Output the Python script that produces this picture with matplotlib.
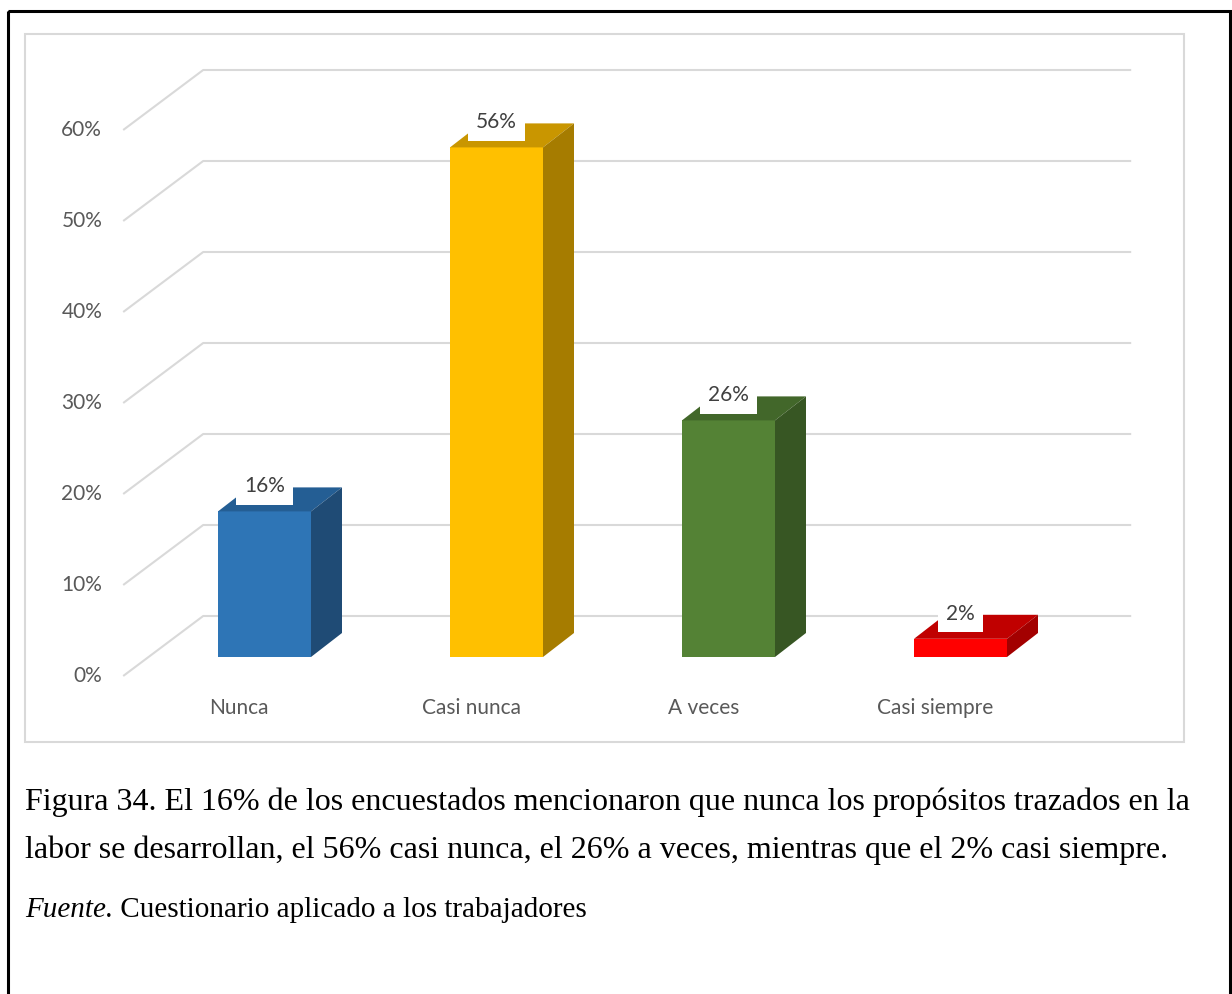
import matplotlib.pyplot as plt
from matplotlib.patches import Polygon, Rectangle

categorias = ['Nunca', 'Casi nunca', 'A veces', 'Casi siempre']
porcentajes = [16, 56, 26, 2]
ticks = [0, 10, 20, 30, 40, 50, 60]
# front, top and side shades of each bar
colores = [
    ('#2E75B6', '#245E94', '#1F4B75'),
    ('#FFC000', '#C99600', '#A67C00'),
    ('#548235', '#42672A', '#375623'),
    ('#FF0000', '#C00000', '#A30000'),
]
leyenda = ('Figura 34. El 16% de los encuestados mencionaron que nunca los propósitos trazados en la',
           'labor se desarrollan, el 56% casi nunca, el 26% a veces, mientras que el 2% casi siempre.')
fuente = ' Cuestionario aplicado a los trabajadores'

W, H = 1232, 994
fig = plt.figure(figsize=(W / 100, H / 100), dpi=100)

# page layer in pixels: frames and caption
bg = fig.add_axes([0, 0, 1, 1])
bg.set_xlim(0, W)
bg.set_ylim(H, 0)
bg.axis('off')
bg.add_patch(Rectangle((8, 11), 1222, 1000, fill=False, ec='black', lw=2.2))
bg.add_patch(Rectangle((25, 34), 1159, 708, fill=False, ec='#D9D9D9', lw=1.5))
serif = 'Liberation Serif'
bg.text(25, 810, leyenda[0], fontsize=23, family=serif, va='baseline', color='black')
bg.text(25, 858, leyenda[1], fontsize=23, family=serif, va='baseline', color='black')
t = bg.text(25, 917, 'Fuente.', fontsize=21, family=serif, style='italic', va='baseline')
bg.annotate(fuente, xycoords=t, xy=(1, 0), va='bottom', fontsize=21, family=serif)

# chart layer: x in categories, y in percent
PX, PY = 232.0, 9.1          # pixels per category / per percent
left, right, top, bottom, base = 32.5, 1192.5, 50, 750, 657
ax = fig.add_axes([left / W, (H - bottom) / H, (right - left) / W, (bottom - top) / H])
ax.set_xlim(-1, 4)
ax.set_ylim(-(bottom - base) / PY, (base - top) / PY)
ax.axis('off')


def off(dx, dy):
    return dx / PX, dy / PY


fx, fy = off(-25.3, -19)     # front edge of the floor
bx, by = off(54.7, 41)       # back wall
dx, dy = off(31, 24)         # bar depth
w = 93 / PX
gris = '#D9D9D9'
texto = '#595959'
fam = ['Lato', 'DejaVu Sans']

x0, x1 = -0.5, len(categorias) - 0.5
for v in ticks:
    ax.plot([x0 + fx, x0 + bx, x1 + bx], [v + fy, v + by, v + by],
            color=gris, lw=1.5, solid_capstyle='butt', zorder=1)
    ax.annotate(f'{v}%', xy=(x0 + fx, v + fy), xytext=(-21, 0), textcoords='offset pixels',
                ha='right', va='center', fontsize=15, color=texto, family=fam)

for i, (cat, v) in enumerate(zip(categorias, porcentajes)):
    frente, arriba, lado = colores[i]
    a, b = i - w / 2, i + w / 2
    ax.add_patch(Polygon([(a, 0), (b, 0), (b, v), (a, v)], closed=True,
                         fc=frente, ec='none', zorder=3))
    ax.add_patch(Polygon([(a, v), (b, v), (b + dx, v + dy), (a + dx, v + dy)], closed=True,
                         fc=arriba, ec='none', zorder=3))
    ax.add_patch(Polygon([(b, 0), (b + dx, dy), (b + dx, v + dy), (b, v)], closed=True,
                         fc=lado, ec='none', zorder=3))
    ax.annotate(f'{v}%', xy=(i, v), xytext=(0, 25), textcoords='offset pixels',
                ha='center', va='center', fontsize=15, color='#404040', family=fam, zorder=5,
                bbox=dict(boxstyle='square,pad=0.4', fc='white', ec='none'))
    ax.annotate(cat, xy=(i + fx, fy), xytext=(0, -32), textcoords='offset pixels',
                ha='center', va='center', fontsize=15, color=texto, family=fam)

fig.savefig('out.png', dpi=100)
